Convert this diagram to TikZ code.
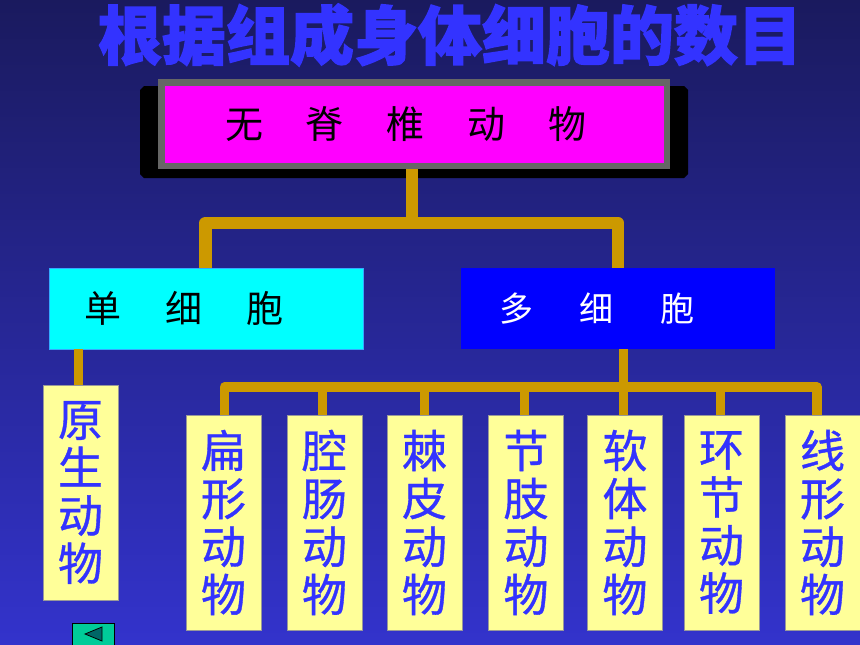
\documentclass[tikz,border=0pt]{standalone}
\usepackage{fontspec}
\newfontfamily\cjk{Noto Sans CJK SC}
\newfontfamily\cjkheavy{Noto Sans CJK SC}[BoldFeatures={FakeBold=2}]
\newfontfamily\cjkmed{Noto Sans CJK SC}[FakeBold=0.8]
\definecolor{bgtop}{RGB}{26,26,94}
\definecolor{bgbot}{RGB}{51,51,204}
\definecolor{titleblue}{RGB}{51,51,255}
\definecolor{gold}{RGB}{204,153,0}
\definecolor{framegray}{RGB}{102,102,102}
\definecolor{mag}{RGB}{255,0,255}
\definecolor{cyanbox}{RGB}{0,255,255}
\definecolor{cyanline}{RGB}{51,170,255}
\definecolor{bluebox}{RGB}{0,0,255}
\definecolor{yel}{RGB}{255,255,153}
\definecolor{yelline}{RGB}{153,153,153}
\definecolor{btn}{RGB}{0,204,153}
\definecolor{tri}{RGB}{0,102,102}
\tikzset{
  conn/.style={draw=gold, line width=12.5pt, line join=round},
  connb/.style={draw=gold, line width=9.5pt, line join=round},
  animal/.style={fill=yel, draw=yelline, line width=1pt, minimum width=75pt, minimum height=215pt,
    inner sep=0, outer sep=0, align=center, text=titleblue, font=\cjkmed\fontsize{45}{48}\selectfont},
  midbox/.style={minimum width=314pt, minimum height=81pt, inner sep=0, outer sep=0}
}
\begin{document}
\begin{tikzpicture}[x=1pt,y=-1pt]
\useasboundingbox (0,0) rectangle (860,645);
\fill[top color=bgtop, bottom color=bgbot] (0,0) rectangle (860,645);

% title
\node[font=\cjkheavy\bfseries\fontsize{64}{64}\selectfont, text=titleblue, inner sep=0] (title) at (450,35) {根据组成身体细胞的数目};

% shadow of top box
\fill[black] (144,86) -- (684,86) -- (688,90) -- (688,174) -- (684,178) -- (144,178) -- (140,174) -- (140,90) -- cycle;

% top box
\node[draw=framegray, line width=6.5pt, fill=mag, minimum width=505.5pt, minimum height=83.5pt,
  inner sep=0, font=\cjk\fontsize{38}{38}\selectfont, text=black] (top) at (414,124)
  {无\hspace{43pt}脊\hspace{43pt}椎\hspace{43pt}动\hspace{43pt}物\kern16pt};

% second row
\node[midbox, fill=cyanbox, draw=cyanline, line width=0.8pt, font=\cjk\fontsize{37}{37}\selectfont, text=black] (single) at (206,308.5)
  {单\hspace{44pt}细\hspace{44pt}胞\kern44pt};
\node[midbox, fill=bluebox, font=\cjk\fontsize{34}{34}\selectfont, text=white] (multi) at (618,308.5)
  {多\hspace{47pt}细\hspace{47pt}胞\kern42pt};

% animal boxes
\node[animal] (proto) at (80.5,492.5) {原\\生\\动\\物};
\node[animal] (flat)  at (223.5,522.5) {扁\\形\\动\\物};
\node[animal] (coel)  at (324.5,522.5) {腔\\肠\\动\\物};
\node[animal] (echi)  at (424.5,522.5) {棘\\皮\\动\\物};
\node[animal] (arth)  at (526,522.5) {节\\肢\\动\\物};
\node[animal] (moll)  at (625,522.5) {软\\体\\动\\物};
\node[animal] (anne)  at (721.5,522.5) {环\\节\\动\\物};
\node[animal] (nema)  at (822.5,522.5) {线\\形\\动\\物};

% upper connectors
\coordinate (j1) at (412,223);
\coordinate (cL) at (205.5,223);
\coordinate (cR) at (618,223);
\draw[conn] (j1 |- top.south) -- (j1);
\draw[conn] (single.north -| cL) -- (cL) -- (cR) -- (multi.north -| cR);

% lower connectors
\coordinate (b0) at (224.5,387);
\coordinate (b1) at (322.5,387);
\coordinate (b2) at (424.5,387);
\coordinate (b3) at (524.5,387);
\coordinate (b4) at (623.5,387);
\coordinate (b5) at (720.5,387);
\coordinate (b6) at (817,387);
\draw[connb] (flat.north -| b0) -- (b0) -- (b6) -- (nema.north -| b6);
\draw[connb] (multi.south -| b4) -- (moll.north -| b4);
\draw[connb] (b1) -- (coel.north -| b1);
\draw[connb] (b2) -- (echi.north -| b2);
\draw[connb] (b3) -- (arth.north -| b3);
\draw[connb] (b5) -- (anne.north -| b5);
\coordinate (pc) at (78.5,349);
\draw[connb] (single.south -| pc) -- (proto.north -| pc);

% navigation button
\node[draw=black, fill=btn, line width=1pt, minimum width=42pt, minimum height=24pt, inner sep=0] (btn) at (93,635) {};
\fill[tri, draw=black, line width=0.8pt] (85,634) -- (102,627) -- (102,641) -- cycle;
\end{tikzpicture}
\end{document}
